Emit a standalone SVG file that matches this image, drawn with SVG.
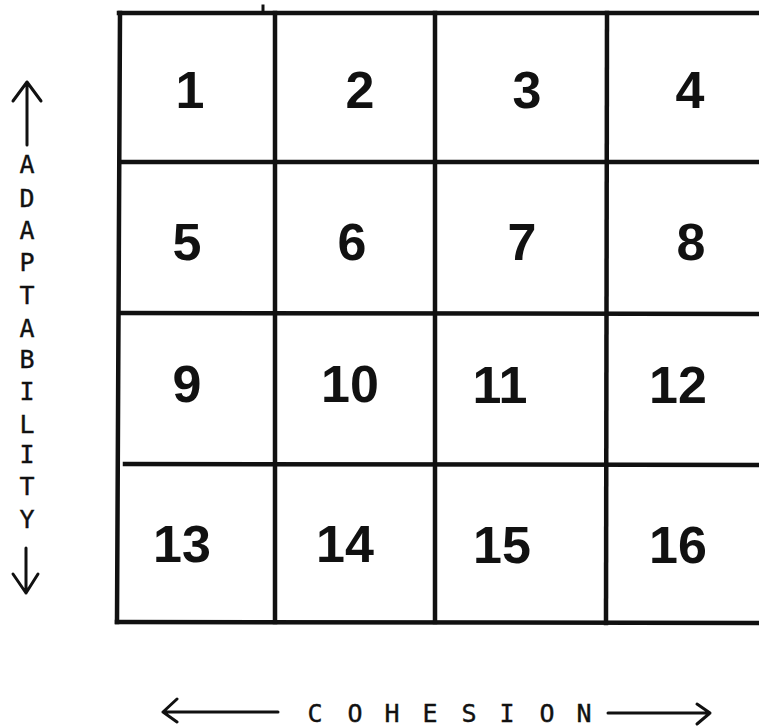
<svg xmlns="http://www.w3.org/2000/svg" width="759" height="728" viewBox="0 0 759 728">
<defs>
<style>
.grid line{stroke:#111;stroke-width:4.5;stroke-linecap:square}
.num{font-family:"Liberation Sans",Arial,sans-serif;font-weight:bold;font-size:52px;fill:#111;text-anchor:middle}
.ax{font-family:"DejaVu Sans Mono","Liberation Mono",monospace;font-size:25px;fill:#111;stroke:#111;stroke-width:0.4;text-anchor:middle}
.arr{stroke:#111;stroke-width:3;fill:none;stroke-linecap:round;stroke-linejoin:round}
</style>
</defs>
<rect width="759" height="728" fill="#fff"/>
<g id="grid" class="grid">
<line x1="119" y1="13" x2="759" y2="13"/>
<line x1="120" y1="162" x2="759" y2="162"/>
<line x1="120" y1="313" x2="759" y2="314"/>
<line x1="125" y1="464" x2="759" y2="465"/>
<line x1="117" y1="622" x2="759" y2="623"/>
<line x1="120" y1="13" x2="117" y2="622"/>
<line x1="275" y1="13" x2="275" y2="622"/>
<line x1="435" y1="13" x2="435" y2="622"/>
<line x1="607" y1="13" x2="606" y2="623"/>
<line x1="263" y1="6" x2="263" y2="11" style="stroke-width:3"/>
</g>
<g id="cell1"><text class="num" x="190" y="108">1</text></g>
<g id="cell2"><text class="num" x="360" y="108">2</text></g>
<g id="cell3"><text class="num" x="527" y="108">3</text></g>
<g id="cell4"><text class="num" x="690" y="108">4</text></g>
<g id="cell5"><text class="num" x="187" y="260">5</text></g>
<g id="cell6"><text class="num" x="352" y="260">6</text></g>
<g id="cell7"><text class="num" x="522" y="260">7</text></g>
<g id="cell8"><text class="num" x="691" y="260">8</text></g>
<g id="cell9"><text class="num" x="187" y="402">9</text></g>
<g id="cell10"><text class="num" x="350" y="402">10</text></g>
<g id="cell11"><text class="num" x="500" y="403">11</text></g>
<g id="cell12"><text class="num" x="678" y="403">12</text></g>
<g id="cell13"><text class="num" x="182" y="562">13</text></g>
<g id="cell14"><text class="num" x="345" y="562">14</text></g>
<g id="cell15"><text class="num" x="502" y="563">15</text></g>
<g id="cell16"><text class="num" x="678" y="563">16</text></g>
<g id="axis-adaptability">
<text class="ax" x="27" y="173">A</text>
<text class="ax" x="27" y="207">D</text>
<text class="ax" x="27" y="239">A</text>
<text class="ax" x="27" y="271">P</text>
<text class="ax" x="27" y="304">T</text>
<text class="ax" x="27" y="337">A</text>
<text class="ax" x="27" y="368">B</text>
<text class="ax" x="27" y="400">I</text>
<text class="ax" x="27" y="433">L</text>
<text class="ax" x="27" y="463">I</text>
<text class="ax" x="27" y="495">T</text>
<text class="ax" x="27" y="528">Y</text>
</g>
<g id="axis-cohesion">
<text class="ax" x="315" y="722">C</text>
<text class="ax" x="355" y="722">O</text>
<text class="ax" x="392" y="722">H</text>
<text class="ax" x="430" y="722">E</text>
<text class="ax" x="469" y="722">S</text>
<text class="ax" x="507" y="722">I</text>
<text class="ax" x="547" y="722">O</text>
<text class="ax" x="584" y="722">N</text>
</g>
<g id="connectors">
<path class="arr" d="M27 145 L27 82 M13 101 L27 82 L41 101"/>
<path class="arr" d="M26 548 L26 593 M13 574 L26 593 L38 574"/>
<path class="arr" d="M278 712 L163 712 M177 699 L163 712 L177 722"/>
<path class="arr" d="M608 713 L710 713 M697 704 L710 713 L697 724"/>
</g>
</svg>
